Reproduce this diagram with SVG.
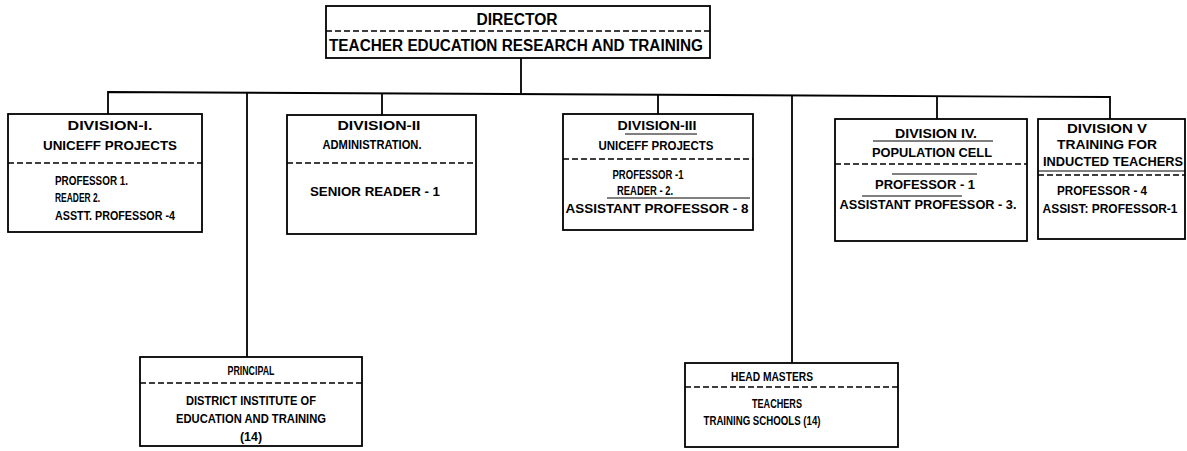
<svg xmlns="http://www.w3.org/2000/svg" width="1187" height="451" viewBox="0 0 1187 451">
<style>
.box{fill:none;stroke:#000;stroke-width:1.8}
.dash{stroke:#000;stroke-width:1.5;stroke-dasharray:6 3;fill:none}
.rule{stroke:#000;stroke-width:1;fill:none}
.t{font-family:"Liberation Sans",Arial,sans-serif;font-weight:bold;font-size:13px;fill:#000}
.tb{font-family:"Liberation Sans",Arial,sans-serif;font-weight:bold;font-size:16px;fill:#000}
.m{text-anchor:middle}
.c{stroke:#000;stroke-width:1.8;fill:none}
</style>
<rect width="1187" height="451" fill="#fff"/>
<g id="connectors">
<line class="c" x1="521" y1="58" x2="521" y2="93"/>
<path class="c" d="M108,114 L108,92 L1110,97 L1110,119"/>
<line class="c" x1="247" y1="93" x2="247" y2="357"/>
<line class="c" x1="382" y1="93" x2="382" y2="115"/>
<line class="c" x1="658" y1="95" x2="658" y2="114"/>
<line class="c" x1="792" y1="95" x2="792" y2="363"/>
<line class="c" x1="937" y1="96" x2="937" y2="119"/>
</g>
<g id="director">
<rect class="box" x="326" y="6" width="384" height="52"/>
<line class="dash" x1="326" y1="31" x2="710" y2="31"/>
<text class="tb m" x="517" y="25" textLength="81" lengthAdjust="spacingAndGlyphs">DIRECTOR</text>
<text class="tb m" x="516" y="51" textLength="374" lengthAdjust="spacingAndGlyphs">TEACHER EDUCATION RESEARCH AND TRAINING</text>
</g>
<g id="division1">
<rect class="box" x="8" y="114" width="194" height="118"/>
<line class="dash" x1="8" y1="163" x2="202" y2="163"/>
<text class="t m" x="110" y="130" textLength="85" lengthAdjust="spacingAndGlyphs">DIVISION-I.</text>
<text class="t m" x="110" y="150" textLength="134" lengthAdjust="spacingAndGlyphs">UNICEFF PROJECTS</text>
<text class="t" x="55" y="185" textLength="73" lengthAdjust="spacingAndGlyphs">PROFESSOR 1.</text>
<text class="t" x="55" y="202" textLength="45" lengthAdjust="spacingAndGlyphs">READER 2.</text>
<text class="t" x="55" y="220" textLength="120" lengthAdjust="spacingAndGlyphs">ASSTT. PROFESSOR -4</text>
</g>
<g id="division2">
<rect class="box" x="287" y="115" width="189" height="119"/>
<line class="dash" x1="287" y1="163" x2="476" y2="163"/>
<text class="t m" x="379" y="130" textLength="83" lengthAdjust="spacingAndGlyphs">DIVISION-II</text>
<text class="t m" x="372" y="149" textLength="99" lengthAdjust="spacingAndGlyphs">ADMINISTRATION.</text>
<text class="t m" x="375" y="196" textLength="130" lengthAdjust="spacingAndGlyphs">SENIOR READER - 1</text>
</g>
<g id="division3">
<rect class="box" x="563" y="114" width="190" height="116"/>
<line class="rule" x1="625" y1="134" x2="697" y2="134"/>
<line class="dash" x1="563" y1="159" x2="753" y2="159"/>
<line class="rule" x1="607" y1="198" x2="750" y2="198"/>
<text class="t m" x="657" y="130" textLength="79" lengthAdjust="spacingAndGlyphs">DIVISION-III</text>
<text class="t m" x="656" y="150" textLength="115" lengthAdjust="spacingAndGlyphs">UNICEFF PROJECTS</text>
<text class="t m" x="648" y="179" textLength="71" lengthAdjust="spacingAndGlyphs">PROFESSOR -1</text>
<text class="t m" x="645" y="195" textLength="56" lengthAdjust="spacingAndGlyphs">READER - 2.</text>
<text class="t m" x="657" y="213" textLength="183" lengthAdjust="spacingAndGlyphs">ASSISTANT PROFESSOR - 8</text>
</g>
<g id="division4">
<rect class="box" x="835" y="119" width="192" height="122"/>
<line class="rule" x1="873" y1="141" x2="993" y2="141"/>
<line class="dash" x1="835" y1="164" x2="1027" y2="164"/>
<line class="rule" x1="892" y1="174" x2="977" y2="174"/>
<line class="rule" x1="862" y1="196" x2="962" y2="196"/>
<text class="t m" x="936" y="138" textLength="82" lengthAdjust="spacingAndGlyphs">DIVISION IV.</text>
<text class="t m" x="932" y="157" textLength="120" lengthAdjust="spacingAndGlyphs">POPULATION CELL</text>
<text class="t m" x="925" y="189" textLength="100" lengthAdjust="spacingAndGlyphs">PROFESSOR - 1</text>
<text class="t m" x="928" y="209" textLength="177" lengthAdjust="spacingAndGlyphs">ASSISTANT PROFESSOR - 3.</text>
</g>
<g id="division5">
<rect class="box" x="1038" y="119" width="147" height="120"/>
<line class="rule" x1="1038" y1="171" x2="1185" y2="171"/>
<line class="dash" x1="1038" y1="175" x2="1185" y2="175"/>
<text class="t m" x="1107" y="133" textLength="80" lengthAdjust="spacingAndGlyphs">DIVISION V</text>
<text class="t m" x="1107" y="149" textLength="100" lengthAdjust="spacingAndGlyphs">TRAINING FOR</text>
<text class="t m" x="1113" y="166" textLength="140" lengthAdjust="spacingAndGlyphs">INDUCTED TEACHERS</text>
<text class="t m" x="1102" y="195" textLength="90" lengthAdjust="spacingAndGlyphs">PROFESSOR - 4</text>
<text class="t m" x="1110" y="213" textLength="135" lengthAdjust="spacingAndGlyphs">ASSIST: PROFESSOR-1</text>
</g>
<g id="principal">
<rect class="box" x="140" y="357" width="222" height="89"/>
<line class="dash" x1="140" y1="383" x2="362" y2="383"/>
<text class="t m" x="251" y="375" textLength="47" lengthAdjust="spacingAndGlyphs">PRINCIPAL</text>
<text class="t m" x="251" y="405" textLength="130" lengthAdjust="spacingAndGlyphs">DISTRICT INSTITUTE OF</text>
<text class="t m" x="251" y="423" textLength="150" lengthAdjust="spacingAndGlyphs">EDUCATION AND TRAINING</text>
<text class="t m" x="251" y="441" textLength="22" lengthAdjust="spacingAndGlyphs">(14)</text>
</g>
<g id="headmasters">
<rect class="box" x="685" y="363" width="213" height="84"/>
<line class="dash" x1="685" y1="387" x2="898" y2="387"/>
<text class="t m" x="772" y="381" textLength="82" lengthAdjust="spacingAndGlyphs">HEAD MASTERS</text>
<text class="t m" x="777" y="408" textLength="50" lengthAdjust="spacingAndGlyphs">TEACHERS</text>
<text class="t m" x="762" y="425" textLength="117" lengthAdjust="spacingAndGlyphs">TRAINING SCHOOLS (14)</text>
</g>
</svg>
